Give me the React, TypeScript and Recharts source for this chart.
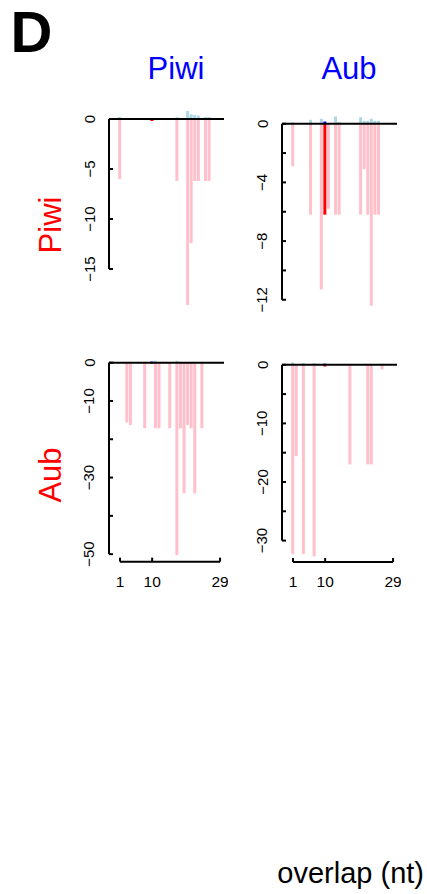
import React from "react";
import { Bar, BarChart, Cell, ReferenceLine, XAxis, YAxis } from "recharts";

// overlap position (nt) shared by all four panels
const overlapNt = [
  1, 2, 3, 4, 5, 6, 7, 8, 9, 10, 11, 12, 13, 14, 15, 16, 17, 18, 19, 20, 21,
  22, 23, 24, 25, 26, 27, 28, 29,
];
const highlightNt = 10;
const xTicks = [1, 10, 29];

const colLabels = ["Piwi", "Aub"];
const rowLabels = ["Piwi", "Aub"];

// row Piwi / column Piwi
const piwiPiwiNeg = [-6.0, 0, 0, 0, 0, 0, 0, 0, 0, -0.2, 0, 0, 0, 0, 0, 0, -6.2, 0, 0, -18.6, -12.4, -6.2, -6.2, 0, -6.2, -6.2, 0, 0, 0];
const piwiPiwiPos = [0.2, 0, 0, 0, 0, 0, 0, 0, 0, 0.1, 0, 0, 0, 0, 0, 0, 0.2, 0, 0, 0.8, 0.45, 0.4, 0.35, 0, 0.2, 0.2, 0, 0, 0];
// row Piwi / column Aub
const piwiAubNeg = [-2.9, 0, 0, 0, 0, -6.2, 0, 0, -11.3, -6.2, -5.8, 0, -6.2, -6.2, 0, 0, 0, 0, 0, -6.2, -3.1, -6.2, -12.4, -6.2, -6.2, 0, 0, 0, 0];
const piwiAubPos = [0.1, 0, 0, 0, 0, 0.27, 0, 0, 0.34, 0.15, 0, 0, 0.5, 0.1, 0, 0, 0, 0, 0, 0.45, 0.2, 0.2, 0.34, 0.2, 0.2, 0, 0, 0, 0];
// row Aub / column Piwi
const aubPiwiNeg = [0, 0, -15.6, -16.3, 0, 0, 0, -17.1, 0, -0.3, -17.1, -17.1, 0, 0, -17.1, 0, -50.2, -17.1, -34.1, -16.3, -17.1, -34.1, 0, -17.1, 0, 0, 0, 0, 0];
const aubPiwiPos = [0, 0, 0, 0, 0, 0, 0, 0, 0, 0.3, 0.5, 0, 0, 0, 0, 0, 0.5, 0, 0, 0, 0, 0, 0, 0, 0, 0, 0, 0, 0];
// row Aub / column Aub
const aubAubNeg = [-32.3, -15.6, 0, -32.3, 0, 0, -32.7, 0, 0, -0.3, 0, 0, 0, 0, 0, 0, -17, 0, 0, 0, 0, -17, -17, 0, 0, -0.8, 0, 0, 0];
const aubAubPos = [0.4, 0, 0, 0.3, 0, 0, 0.3, 0, 0, 0.2, 0, 0, 0, 0, 0, 0, 0, 0, 0, 0, 0, 0, 0, 0, 0, 0, 0, 0, 0];

// y ticks / labelled ticks per panel
const piwiPiwiTicks = [0, -5, -10, -15];
const piwiPiwiLabels = [0, -5, -10, -15];
const piwiAubTicks = [0, -2, -4, -6, -8, -10, -12];
const piwiAubLabels = [0, -4, -8, -12];
const aubPiwiTicks = [0, -10, -20, -30, -40, -50];
const aubPiwiLabels = [0, -10, -30, -50];
const aubAubTicks = [0, -5, -10, -15, -20, -25, -30];
const aubAubLabels = [0, -10, -20, -30];

const FONT = "'Liberation Sans', Arial, Helvetica, sans-serif";
const PINK = "#FFC0CB";
const LIGHTBLUE = "#ADD8E6";
const AXIS_W = 40;
const PLOT_W = 115;
const X_MIN = -2.07;
const X_MAX = 30.1;
const X_AXIS_H = 35;
const PAD_B = 16; // room below the plot for rotated labels

const fmt = (v: number) => (v < 0 ? "\u2212" + Math.abs(v) : String(v));

type PanelProps = {
  neg: number[];
  pos: number[];
  ticks: number[];
  labels: number[];
  plotLeft: number;
  zeroY: number;
  pxPerUnit: number;
  yMax: number;
  yMin: number;
  showX: boolean;
};

function Panel({ neg, pos, ticks, labels, plotLeft, zeroY, pxPerUnit, yMax, yMin, showX }: PanelProps) {
  const data = overlapNt.map((nt, i) => ({ nt, neg: neg[i], pos: pos[i] }));
  const plotH = (yMax - yMin) * pxPerUnit;
  const bottom = showX ? 0 : PAD_B;
  const height = plotH + (showX ? X_AXIS_H : 0) + bottom;
  const width = AXIS_W + PLOT_W + 4;
  const axisBottom = ticks[ticks.length - 1];

  const renderYTick = (props: any) => {
    const { y, payload } = props;
    const lx = AXIS_W - 14.5;
    return (
      <g>
        <line x1={AXIS_W} x2={AXIS_W + 4} y1={y} y2={y} stroke="#000" strokeWidth={2} />
        {labels.includes(payload.value) && (
          <text
            x={lx}
            y={y}
            transform={`rotate(-90, ${lx}, ${y})`}
            textAnchor="middle"
            fontSize={15}
            fontFamily={FONT}
            fill="#000"
          >
            {fmt(payload.value)}
          </text>
        )}
      </g>
    );
  };

  const renderXTick = (props: any) => {
    const { x, y, payload } = props;
    return (
      <g>
        <line x1={x} x2={x} y1={y} y2={y - 4} stroke="#000" strokeWidth={2} />
        <text x={x} y={y + 25} textAnchor="middle" fontSize={15.5} fontFamily={FONT} fill="#000">
          {payload.value}
        </text>
      </g>
    );
  };

  return (
    <div
      style={{
        position: "absolute",
        left: plotLeft - AXIS_W,
        top: zeroY - yMax * pxPerUnit,
        width,
        height,
      }}
    >
      <BarChart
        width={width}
        height={height}
        data={data}
        stackOffset="sign"
        margin={{ top: 0, right: 4, bottom, left: 0 }}
        barSize={3}
      >
        <XAxis
          dataKey="nt"
          type="number"
          domain={[X_MIN, X_MAX]}
          allowDataOverflow
          ticks={xTicks}
          interval={0}
          hide={!showX}
          height={X_AXIS_H}
          axisLine={false}
          tickLine={false}
          tickSize={0}
          tickMargin={0}
          tick={renderXTick}
        />
        <YAxis
          type="number"
          domain={[yMin, yMax]}
          allowDataOverflow
          ticks={ticks}
          interval={0}
          width={AXIS_W}
          axisLine={false}
          tickLine={false}
          tickSize={0}
          tickMargin={0}
          tick={renderYTick}
        />
        <Bar dataKey="pos" stackId="s" fill={LIGHTBLUE} isAnimationActive={false}>
          {data.map((d) => (
            <Cell key={`p-${d.nt}`} fill={d.nt === highlightNt ? "#0000FF" : LIGHTBLUE} />
          ))}
        </Bar>
        <Bar dataKey="neg" stackId="s" fill={PINK} isAnimationActive={false}>
          {data.map((d) => (
            <Cell key={`n-${d.nt}`} fill={d.nt === highlightNt ? "#FF0000" : PINK} />
          ))}
        </Bar>
        <ReferenceLine y={0} stroke="#000" strokeWidth={2} />
        <ReferenceLine
          segment={[
            { x: X_MIN, y: 0 },
            { x: X_MIN, y: axisBottom },
          ]}
          stroke="#000"
          strokeWidth={2}
        />
        {showX && (
          <ReferenceLine
            segment={[
              { x: xTicks[0], y: yMin },
              { x: xTicks[xTicks.length - 1], y: yMin },
            ]}
            stroke="#000"
            strokeWidth={2}
          />
        )}
      </BarChart>
    </div>
  );
}

export default function App() {
  return (
    <div
      style={{
        position: "absolute",
        left: 0,
        top: 0,
        width: 427,
        height: 894,
        background: "#fff",
        fontFamily: FONT,
      }}
    >
      <svg width={427} height={894} style={{ position: "absolute", left: 0, top: 0 }}>
        <text x={10.5} y={52} fontSize={58} fontWeight="bold" fontFamily={FONT} fill="#000">
          D
        </text>
        <text x={176} y={79.3} fontSize={31} textAnchor="middle" fontFamily={FONT} fill="#0000FF">
          {colLabels[0]}
        </text>
        <text x={349} y={79.3} fontSize={31} textAnchor="middle" fontFamily={FONT} fill="#0000FF">
          {colLabels[1]}
        </text>
        <text
          x={60.5}
          y={225}
          transform="rotate(-90, 60.5, 225)"
          fontSize={31}
          textAnchor="middle"
          fontFamily={FONT}
          fill="#FF0000"
        >
          {rowLabels[0]}
        </text>
        <text
          x={60.5}
          y={475}
          transform="rotate(-90, 60.5, 475)"
          fontSize={31}
          textAnchor="middle"
          fontFamily={FONT}
          fill="#FF0000"
        >
          {rowLabels[1]}
        </text>
        <text x={424} y={883} fontSize={29} textAnchor="end" fontFamily={FONT} fill="#000">
          overlap (nt)
        </text>
      </svg>

      <Panel neg={piwiPiwiNeg} pos={piwiPiwiPos} ticks={piwiPiwiTicks} labels={piwiPiwiLabels}
        plotLeft={109} zeroY={119.3} pxPerUnit={10} yMax={1} yMin={-19} showX={false} />
      <Panel neg={piwiAubNeg} pos={piwiAubPos} ticks={piwiAubTicks} labels={piwiAubLabels}
        plotLeft={281.7} zeroY={124} pxPerUnit={14.67} yMax={0.8} yMin={-12.7} showX={false} />
      <Panel neg={aubPiwiNeg} pos={aubPiwiPos} ticks={aubPiwiTicks} labels={aubPiwiLabels}
        plotLeft={109} zeroY={362.7} pxPerUnit={3.83} yMax={2} yMin={-51.96} showX={true} />
      <Panel neg={aubAubNeg} pos={aubAubPos} ticks={aubAubTicks} labels={aubAubLabels}
        plotLeft={281.7} zeroY={364.3} pxPerUnit={5.86} yMax={1.5} yMin={-33.65} showX={true} />
    </div>
  );
}
